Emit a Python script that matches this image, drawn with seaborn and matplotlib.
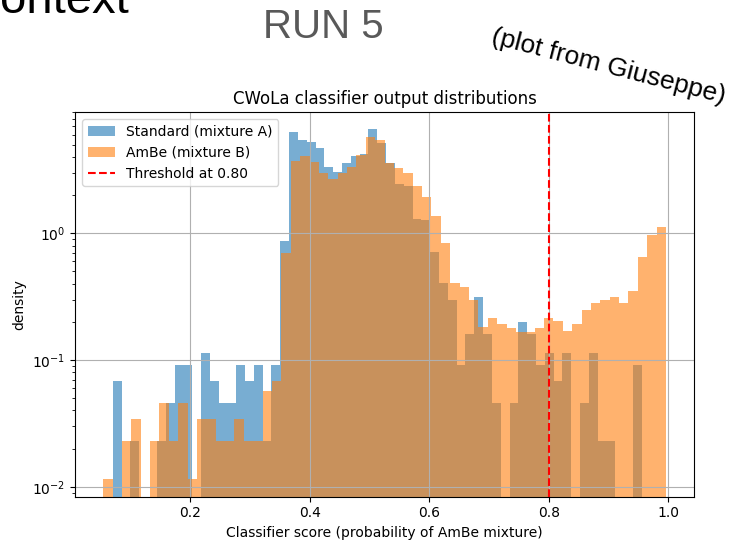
import numpy as np
import pandas as pd
import matplotlib
matplotlib.use("Agg")
import matplotlib.pyplot as plt
import seaborn as sns
from matplotlib.patches import Patch
from matplotlib.lines import Line2D

# histogram data (density, 60 bins per sample)
n_bins = 60
std_range = (0.0701, 0.9555)
ambe_range = (0.054, 0.996)

std_density = [0.068, 0, 0.0228, 0, 0, 0.0228, 0.0455, 0.091, 0.091, 0,
               0.114, 0.068, 0.0455, 0.0455, 0.091, 0.068, 0.091, 0.0228, 0.091, 0.87,
               6.3, 5.45, 5.28, 4.74, 3.32, 3.03, 3.57, 4.07, 4.22, 6.62,
               5.2, 3.57, 2.45, 2.38, 1.30, 1.27, 0.716, 0.403, 0.298, 0.091,
               0.160, 0.316, 0.160, 0.0455, 0, 0.0455, 0.201, 0.160, 0.091, 0.114,
               0.068, 0.114, 0, 0.0455, 0.114, 0.0228, 0.0228, 0, 0, 0.091]

ambe_density = [0.0114, 0, 0.0228, 0.034, 0, 0.0228, 0.0455, 0.0228, 0.0455, 0.0114,
                0.034, 0.034, 0.0228, 0.0228, 0.034, 0.0228, 0.0228, 0.0568, 0.068, 0.695,
                3.72, 4.07, 3.67, 2.98, 2.67, 2.98, 3.32, 4.15, 5.72, 5.45,
                3.59, 3.26, 2.98, 2.36, 1.93, 1.37, 0.845, 0.403, 0.377, 0.298,
                0.181, 0.213, 0.191, 0.180, 0.167, 0.165, 0.180, 0.213, 0.203, 0.169,
                0.191, 0.248, 0.280, 0.298, 0.316, 0.280, 0.351, 0.646, 0.97, 1.115]

threshold = 0.80

fig = plt.figure(figsize=(7.37, 5.41), dpi=100)
ax = fig.add_axes([0.1018, 0.0819, 0.840, 0.7105])


def bin_table(rng, dens):
    edges = np.linspace(rng[0], rng[1], n_bins + 1)
    return pd.DataFrame({"score": (edges[:-1] + edges[1:]) / 2, "density": dens})


sns.histplot(data=bin_table(std_range, std_density), x="score", weights="density",
             bins=n_bins, binrange=std_range, color='C0', alpha=0.6, linewidth=0, ax=ax)
sns.histplot(data=bin_table(ambe_range, ambe_density), x="score", weights="density",
             bins=n_bins, binrange=ambe_range, color='C1', alpha=0.6, linewidth=0, ax=ax)
ax.axvline(threshold, color='red', linestyle='--', linewidth=1.5)

ax.set_yscale('log')
ax.set_xlim(0.0069, 1.0431)
ax.set_ylim(0.00834, 9.02)
ax.grid(True)
ax.set_title("CWoLa classifier output distributions")
ax.set_xlabel("Classifier score (probability of AmBe mixture)")
ax.set_ylabel("density")

handles = [Patch(facecolor='C0', edgecolor='none', alpha=0.6),
           Patch(facecolor='C1', edgecolor='none', alpha=0.6),
           Line2D([], [], color='red', linestyle='--', linewidth=1.5)]
labels = ["Standard (mixture A)", "AmBe (mixture B)", f"Threshold at {threshold:.2f}"]
ax.legend(handles, labels, loc='upper left')

# slide decorations around the plot
fig.text(0, 1 - 13 / 541, "ontext", fontsize=34, family='Liberation Sans',
         ha='left', va='baseline')
fig.text(323 / 737, 1 - 27 / 541, "RUN 5", fontsize=29, color='#595959',
         family='Liberation Sans', ha='center', va='center')
fig.text(609 / 737, 1 - 67 / 541, "(plot from Giuseppe)", fontsize=19,
         rotation=-14.5, family='Liberation Sans', ha='center', va='center')

fig.savefig("out.png", dpi=100)
